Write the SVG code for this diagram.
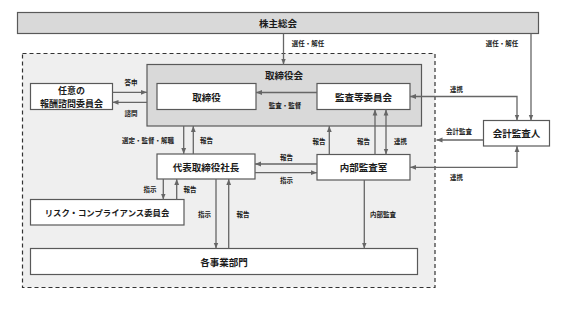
<svg xmlns="http://www.w3.org/2000/svg" width="561" height="316" viewBox="0 0 561 316">
<style>
.bx{fill:#fff;stroke:#595959;stroke-width:1.2}
.gr{fill:#d9d9d9;stroke:#595959;stroke-width:1.2}
.t{font-family:"Noto Sans CJK JP",sans-serif;font-weight:bold;font-size:9.5px;fill:#1a1a1a;text-anchor:middle;dominant-baseline:central}
.s{font-family:"Noto Sans CJK JP",sans-serif;font-weight:bold;font-size:6.5px;fill:#1a1a1a;text-anchor:middle;dominant-baseline:central}
.c{fill:none;stroke:#666;stroke-width:1.3}
.a{marker-end:url(#ah)}
.b{marker-start:url(#as);marker-end:url(#ah)}
</style>
<defs>
<marker id="ah" viewBox="0 0 10 10" refX="10" refY="5" markerWidth="6" markerHeight="6" markerUnits="userSpaceOnUse" orient="auto"><path d="M0,1 L10,5 L0,9 z" fill="#666"/></marker>
<marker id="as" viewBox="0 0 10 10" refX="0" refY="5" markerWidth="6" markerHeight="6" markerUnits="userSpaceOnUse" orient="auto"><path d="M10,1 L0,5 L10,9 z" fill="#666"/></marker>
</defs>
<rect width="561" height="316" fill="#fff"/>
<g id="outer"><rect x="22.5" y="53.5" width="412.5" height="234" fill="#efefef" stroke="#333" stroke-width="1.2" stroke-dasharray="4,3"/></g>
<g id="kabunushi"><rect class="gr" x="17.5" y="12.5" width="521" height="21"/><text class="t" x="278" y="23">株主総会</text></g>
<g id="torishimariyakukai"><rect class="gr" x="147" y="64.5" width="274.5" height="61.5"/><text class="t" x="284" y="75">取締役会</text></g>
<g id="torishimariyaku"><rect class="bx" x="157" y="83.5" width="99" height="26"/><text class="t" x="206.5" y="96.5">取締役</text></g>
<g id="kansa"><rect class="bx" x="317" y="83.5" width="93" height="26"/><text class="t" x="363.5" y="96.5">監査等委員会</text></g>
<g id="houshu"><rect class="bx" x="30.5" y="83.5" width="82" height="26"/><text class="t" x="71.5" y="90" style="font-size:9px">任意の</text><text class="t" x="71.5" y="103.5" style="font-size:9px">報酬諮問委員会</text></g>
<g id="daihyo"><rect class="bx" x="157" y="154" width="98" height="25"/><text class="t" x="206" y="166.5">代表取締役社長</text></g>
<g id="naibu"><rect class="bx" x="317" y="154.5" width="93" height="25.5"/><text class="t" x="363.5" y="167">内部監査室</text></g>
<g id="kaikei"><rect class="bx" x="483.5" y="120.5" width="66" height="25.5"/><text class="t" x="516.5" y="133">会計監査人</text></g>
<g id="risk"><rect class="bx" x="30.5" y="199.5" width="153.5" height="25.5"/><text class="t" x="107" y="212" style="font-size:8.4px">リスク・コンプライアンス委員会</text></g>
<g id="jigyo"><rect class="bx" x="30.5" y="248.5" width="387" height="26"/><text class="t" x="224" y="261.5">各事業部門</text></g>
<g id="connectors">
<path class="c a" d="M283.5,33.5 V64.5"/>
<path class="c a" d="M531,33.5 V120.5"/>
<path class="c a" d="M112.5,92.3 H147"/>
<path class="c a" d="M147,102.3 H112.5"/>
<path class="c a" d="M317,92.5 H256"/>
<path class="c b" d="M410,96.5 H517 V120.5"/>
<path class="c a" d="M483.5,140 H436.5"/>
<path class="c b" d="M410,167.3 H517 V146"/>
<path class="c a" d="M183.7,126 V154"/>
<path class="c a" d="M193.3,154 V126"/>
<path class="c a" d="M329.3,154.5 V126"/>
<path class="c a" d="M375,154.5 V109.5"/>
<path class="c b" d="M386,109.5 V154.5"/>
<path class="c a" d="M317,164 H255"/>
<path class="c a" d="M255,172.7 H317"/>
<path class="c a" d="M163.3,179 V199.5"/>
<path class="c a" d="M176.7,199.5 V179"/>
<path class="c a" d="M216,179 V248.5"/>
<path class="c a" d="M228.7,248.5 V179"/>
<path class="c a" d="M364.3,180 V248.5"/>
<text class="s" x="308" y="43.3">選任・解任</text>
<text class="s" x="502" y="43.3">選任・解任</text>
<text class="s" x="131" y="82">答申</text>
<text class="s" x="131" y="113">諮問</text>
<text class="s" x="285" y="105">監査・監督</text>
<text class="s" x="456.5" y="89">連携</text>
<text class="s" x="459" y="131">会計監査</text>
<text class="s" x="456.5" y="177">連携</text>
<text class="s" x="148" y="140">選定・監督・解職</text>
<text class="s" x="206.5" y="140">報告</text>
<text class="s" x="319" y="140.7">報告</text>
<text class="s" x="363.5" y="140.7">報告</text>
<text class="s" x="400.5" y="140.7">連携</text>
<text class="s" x="286.5" y="156.7">報告</text>
<text class="s" x="286.5" y="179.5">指示</text>
<text class="s" x="150" y="189">指示</text>
<text class="s" x="190" y="189">報告</text>
<text class="s" x="204.5" y="214">指示</text>
<text class="s" x="243" y="214">報告</text>
<text class="s" x="383" y="214">内部監査</text>
</g>
</svg>
